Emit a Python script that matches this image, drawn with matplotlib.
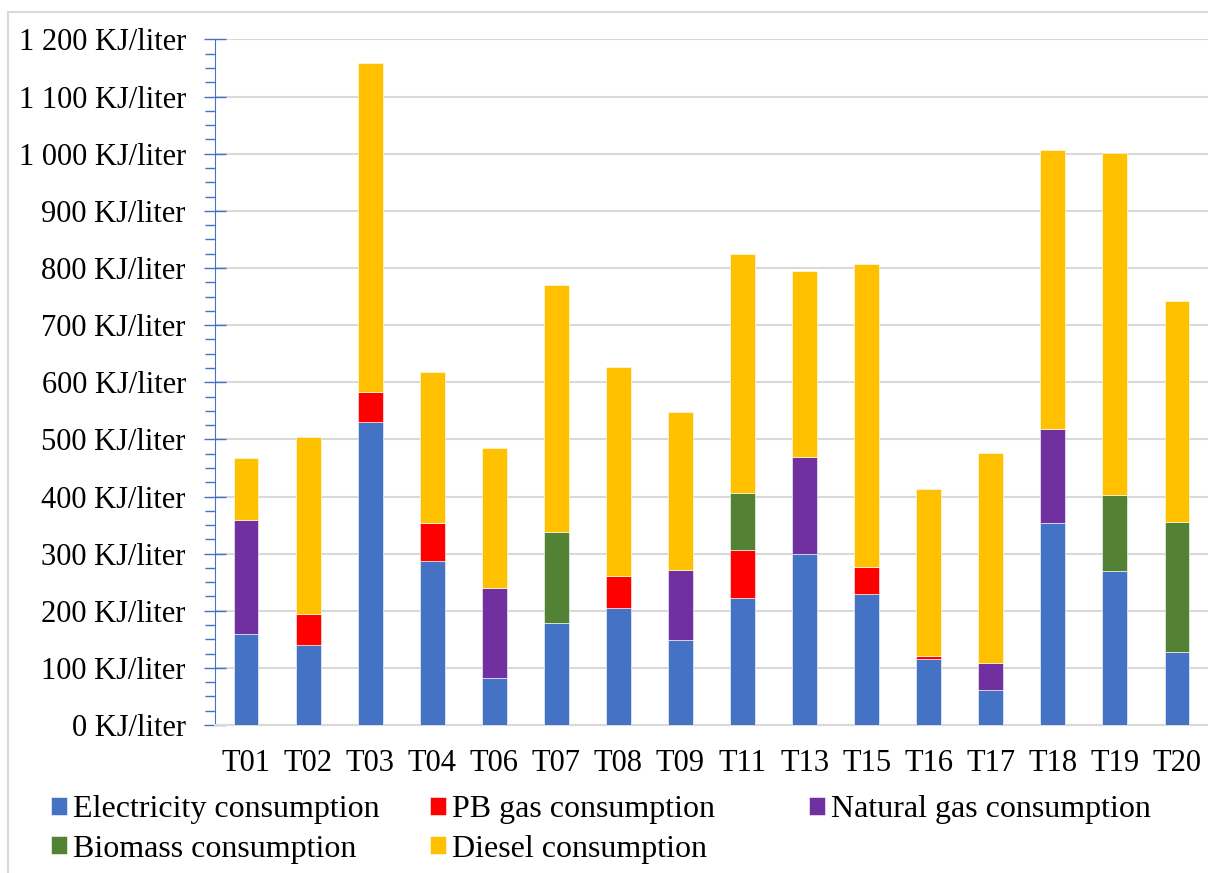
import numpy as np
import matplotlib.pyplot as plt
from matplotlib.ticker import FuncFormatter, MultipleLocator
from matplotlib.patches import Rectangle

plt.rcParams['font.family'] = ['Liberation Serif', 'DejaVu Serif']

sites = ['T01', 'T02', 'T03', 'T04', 'T06', 'T07', 'T08', 'T09',
         'T11', 'T13', 'T15', 'T16', 'T17', 'T18', 'T19', 'T20']
electricity = [160, 140, 530, 287, 82, 179, 204, 149, 223, 299, 229, 116, 61, 353, 269, 127]
pb_gas = [0, 55, 53, 67, 0, 0, 56, 0, 84, 0, 48, 5, 0, 0, 0, 0]
natural_gas = [198, 0, 0, 0, 158, 0, 0, 122, 0, 171, 0, 0, 48, 165, 0, 0]
biomass = [0, 0, 0, 0, 0, 159, 0, 0, 99, 0, 0, 0, 0, 0, 134, 229]
diesel = [110, 310, 576, 264, 245, 433, 367, 277, 419, 325, 530, 292, 367, 489, 599, 386]

series = [
    ('Electricity consumption', electricity, '#4472C4'),
    ('PB gas consumption', pb_gas, '#FF0000'),
    ('Natural gas consumption', natural_gas, '#7030A0'),
    ('Biomass consumption', biomass, '#548235'),
    ('Diesel consumption', diesel, '#FFC000'),
]

fs = 22

fig = plt.figure(figsize=(12.08, 8.73), dpi=100)
ax = fig.add_axes([0.178, 0.1695, 0.822, 0.7853])

x = np.arange(len(sites))
bottom = np.zeros(len(sites))
handles = []
for name, vals, color in series:
    vals = np.array(vals, dtype=float)
    h = ax.bar(x, vals, 0.4, bottom=bottom, color=color, label=name,
               edgecolor='white', linewidth=0.4, zorder=3)
    handles.append(h)
    bottom += vals

ax.set_xlim(-0.5, len(sites) - 0.5)
ax.set_ylim(0, 1200)
ax.yaxis.set_major_locator(MultipleLocator(100))
ax.yaxis.set_minor_locator(MultipleLocator(25))
ax.yaxis.set_major_formatter(FuncFormatter(
    lambda v, p: f"{int(v):,}".replace(',', ' ') + ' KJ/liter'))
ax.grid(axis='y', color='#D9D9D9', linewidth=1.5, zorder=0)

ax.set_xticks(x)
ax.set_xticklabels(sites)
ax.tick_params(axis='x', length=0, labelsize=fs, pad=17)
ax.tick_params(axis='y', which='major', direction='inout', length=16, width=1,
               color='#4472C4', labelsize=fs, pad=13)
ax.tick_params(axis='y', which='minor', direction='out', length=7, width=1,
               color='#4472C4')

for s in ['top', 'right']:
    ax.spines[s].set_visible(False)
ax.spines['left'].set_color('#4472C4')
ax.spines['bottom'].set_color('#D9D9D9')
ax.spines['bottom'].set_linewidth(1.5)

# legend laid out as three columns: (Electricity, Biomass), (PB gas, Diesel), (Natural gas)
columns = [([0, 3], 51), ([1, 4], 430), ([2], 809)]
for idx, xpix in columns:
    fig.legend([handles[i] for i in idx], [series[i][0] for i in idx],
               loc='upper left', bbox_to_anchor=(xpix / 1208, 1 - 795 / 873),
               frameon=False, fontsize=23, borderpad=0, borderaxespad=0,
               handlelength=0.5, handleheight=0.5, handletextpad=0.2,
               labelspacing=0.33)

fig.patches.append(Rectangle((8 / 1208, -0.1), 1.2, 1 - 12 / 873 + 0.1,
                             transform=fig.transFigure, fill=False,
                             edgecolor='#D9D9D9', linewidth=1.5))

fig.savefig('out.png', dpi=100)
